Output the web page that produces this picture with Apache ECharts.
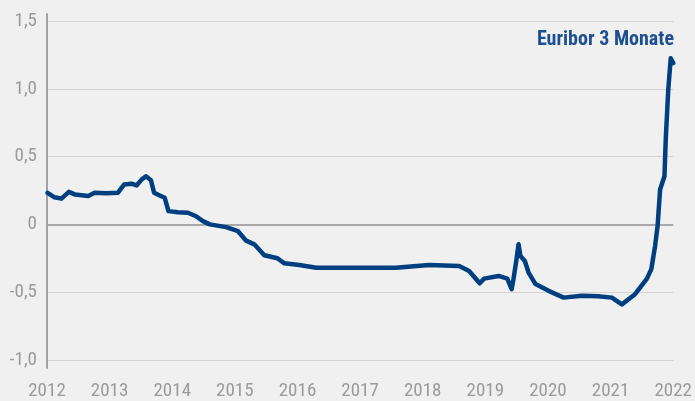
<!DOCTYPE html>
<html>
<head>
<meta charset="utf-8">
<script src="https://cdn.jsdelivr.net/npm/echarts@6/dist/echarts.min.js"></script>
<style>
  html, body { margin: 0; padding: 0; background: #f0f0f0; }
  #box { width: 695px; height: 401px; }
</style>
</head>
<body>
<div id="box"></div>
<script>
// Euribor 3 Monate (Jahr als Dezimalzahl, Zins in %)
const years = [
  2012.01, 2012.12, 2012.23, 2012.35, 2012.45, 2012.55, 2012.66, 2012.76, 2012.95, 2013.13,
  2013.23, 2013.35, 2013.43, 2013.51, 2013.58, 2013.66, 2013.71, 2013.80, 2013.88, 2013.94,
  2014.09, 2014.25, 2014.38, 2014.49, 2014.60, 2014.86, 2015.05, 2015.18, 2015.31, 2015.47,
  2015.68, 2015.79, 2016.03, 2016.30, 2016.98, 2017.57, 2018.10, 2018.58, 2018.74, 2018.91,
  2018.98, 2019.21, 2019.35, 2019.42, 2019.45, 2019.49, 2019.53, 2019.56, 2019.63, 2019.69,
  2019.80, 2020.01, 2020.25, 2020.54, 2020.80, 2021.02, 2021.18, 2021.39, 2021.58, 2021.65,
  2021.71, 2021.75, 2021.79, 2021.86, 2021.88, 2021.92, 2021.96, 2022.00
];
const rates = [
  0.233, 0.20, 0.19, 0.24, 0.22, 0.215, 0.21, 0.233, 0.23, 0.233,
  0.294, 0.30, 0.287, 0.33, 0.355, 0.326, 0.233, 0.213, 0.196, 0.098,
  0.09, 0.086, 0.06, 0.024, 0.0, -0.02, -0.05, -0.12, -0.147, -0.228,
  -0.25, -0.287, -0.30, -0.32, -0.32, -0.32, -0.30, -0.306, -0.343, -0.434,
  -0.40, -0.38, -0.40, -0.478, -0.40, -0.28, -0.147, -0.233, -0.27, -0.355,
  -0.44, -0.49, -0.54, -0.527, -0.53, -0.54, -0.59, -0.515, -0.40, -0.33,
  -0.16, -0.012, 0.257, 0.355, 0.625, 0.99, 1.225, 1.19
];
const yTicks = [-1.0, -0.5, 0, 0.5, 1.0, 1.5];
const seriesName = 'Euribor 3 Monate';

const font = "'Roboto Condensed', Roboto, sans-serif";

var chartDom = document.getElementById('box');
var myChart = echarts.init(chartDom);

var option = {
  backgroundColor: '#f0f0f0',
  animation: false,
  title: {
    text: seriesName,
    right: 21,
    top: 30,
    padding: 0,
    textStyle: { color: '#1e4f91', fontSize: 20, fontWeight: 'bold', fontFamily: font }
  },
  grid: [
    { left: 47, right: 20, top: 21, bottom: 40 },
    // nur fuer die etwas laengere y-Achsenlinie
    { left: 47, width: 1, top: 14, bottom: 33 }
  ],
  xAxis: [
    {
      type: 'value',
      gridIndex: 0,
      min: 2012,
      max: 2022,
      interval: 1,
      axisLine: { show: false },
      axisTick: { show: false },
      splitLine: { show: false },
      axisLabel: {
        margin: 22,
        color: '#9a9a9a',
        fontSize: 19,
        fontFamily: font,
        showMinLabel: true,
        showMaxLabel: true,
        formatter: v => String(Math.round(v))
      }
    },
    { type: 'value', gridIndex: 1, show: false, min: 0, max: 1 }
  ],
  yAxis: [
    {
      type: 'value',
      gridIndex: 0,
      min: yTicks[0],
      max: yTicks[yTicks.length - 1],
      interval: 0.5,
      axisLine: { show: false },
      axisTick: { show: false },
      splitLine: { show: true, lineStyle: { color: '#d3d3d3', width: 1 } },
      axisLabel: {
        margin: 10,
        color: '#9a9a9a',
        fontSize: 19,
        fontFamily: font,
        formatter: v => v === 0 ? '0' : v.toFixed(1).replace('.', ',')
      }
    },
    {
      type: 'value',
      gridIndex: 1,
      min: 0,
      max: 1,
      axisLine: { show: true, lineStyle: { color: '#a3a3a3', width: 2 } },
      axisTick: { show: false },
      axisLabel: { show: false },
      splitLine: { show: false }
    }
  ],
  series: [
    {
      name: seriesName,
      type: 'line',
      xAxisIndex: 0,
      yAxisIndex: 0,
      showSymbol: false,
      symbol: 'none',
      data: years.map((y, i) => [y, rates[i]]),
      lineStyle: { color: '#003f7f', width: 4.5, cap: 'round', join: 'round' },
      markLine: {
        silent: true,
        symbol: 'none',
        label: { show: false },
        lineStyle: { color: '#a8a8a8', width: 2, type: 'solid' },
        data: [{ yAxis: 0 }],
        z: 1
      }
    }
  ]
};

myChart.setOption(option);
</script>
</body>
</html>
